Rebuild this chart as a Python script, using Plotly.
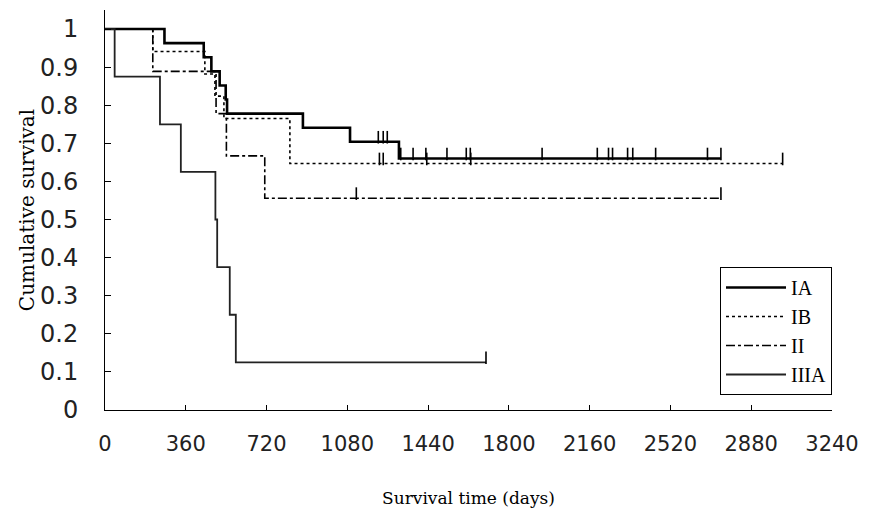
import plotly.graph_objects as go

# ---- data ----
ia_times = [265, 440, 474, 511, 538, 544, 882, 1092, 1310]
ia_surv = [0.963, 0.926, 0.889, 0.852, 0.815, 0.778, 0.741, 0.704, 0.660]
ia_end = 2745
ia_censor = [1218, 1240, 1258, 1318, 1373, 1430, 1524, 1610, 1628, 1948,
             2194, 2244, 2262, 2329, 2352, 2454, 2685, 2745]

ib_times = [213, 445, 490, 530, 824]
ib_surv = [0.941, 0.882, 0.824, 0.765, 0.647]
ib_end = 3020
ib_censor = [1223, 1240, 1434, 1630, 3020]

ii_times = [213, 495, 541, 712]
ii_surv = [0.889, 0.778, 0.667, 0.556]
ii_end = 2745
ii_censor = [1120, 2745]

iiia_times = [43, 245, 338, 492, 500, 556, 583]
iiia_surv = [0.875, 0.75, 0.625, 0.5, 0.375, 0.25, 0.125]
iiia_end = 1698
iiia_censor = [1698]

x_ticks = [0, 360, 720, 1080, 1440, 1800, 2160, 2520, 2880, 3240]
y_ticks = [0, 0.1, 0.2, 0.3, 0.4, 0.5, 0.6, 0.7, 0.8, 0.9, 1]
y_tick_text = ["0", "0.1", "0.2", "0.3", "0.4", "0.5", "0.6", "0.7", "0.8", "0.9", "1"]

groups = [
    ("IA", ia_times, ia_surv, ia_end, ia_censor, dict(color="black", width=2.6, dash="solid")),
    ("IB", ib_times, ib_surv, ib_end, ib_censor, dict(color="black", width=1.6, dash="dot")),
    ("II", ii_times, ii_surv, ii_end, ii_censor, dict(color="black", width=1.6, dash="dashdot")),
    ("IIIA", iiia_times, iiia_surv, iiia_end, iiia_censor, dict(color="#222222", width=1.8, dash="solid")),
]


def surv_at(t, times, surv):
    s = 1.0
    for ti, si in zip(times, surv):
        if ti <= t:
            s = si
    return s


fig = go.Figure()
for name, times, surv, end, cens, line in groups:
    xs = [0] + times + [end]
    ys = [1.0] + surv + [surv[-1]]
    fig.add_trace(go.Scatter(x=xs, y=ys, mode="lines", line_shape="hv",
                             line=line, name=name, showlegend=True))
    cy = [surv_at(c, times, surv) + 0.012 for c in cens]
    fig.add_trace(go.Scatter(x=cens, y=cy, mode="markers", showlegend=False,
                             hoverinfo="skip", cliponaxis=False,
                             marker=dict(symbol="line-ns", size=9,
                                         line=dict(color="black", width=1.6))))

# the page body has an 8px margin, so margins are reduced by 8 on left/top
fig.update_layout(
    width=869, height=523,
    margin=dict(l=97, r=45, t=2, b=121),
    paper_bgcolor="white", plot_bgcolor="white",
    showlegend=True,
    legend=dict(x=1.0, xanchor="right", y=0.3575, yanchor="top",
                bordercolor="black", borderwidth=1, bgcolor="white",
                font=dict(family="Liberation Serif", size=20, color="black"),
                itemwidth=60, tracegroupgap=0),
)
fig.update_xaxes(range=[0, 3240], tickvals=x_ticks, ticktext=[str(v) for v in x_ticks],
                 automargin=False,
                 showline=True, linecolor="black", linewidth=1,
                 ticks="inside", ticklen=5, tickcolor="black",
                 showgrid=False, zeroline=False,
                 tickfont=dict(family="DejaVu Sans", size=21, color="#222222"),
                 ticklabelstandoff=15,
                 title=dict(text="Survival time (days)", standoff=36,
                            font=dict(family="DejaVu Serif", size=17, color="black")))
fig.update_yaxes(range=[0, 1.05], tickvals=y_ticks, ticktext=y_tick_text,
                 automargin=False,
                 showline=True, linecolor="black", linewidth=1,
                 ticks="inside", ticklen=6, tickcolor="black",
                 showgrid=False, zeroline=False,
                 tickfont=dict(family="DejaVu Sans", size=24, color="#222222"),
                 ticklabelstandoff=21,
                 title=dict(text="Cumulative survival", standoff=0,
                            font=dict(family="DejaVu Serif", size=20, color="black")))

fig.write_html("out.html")
